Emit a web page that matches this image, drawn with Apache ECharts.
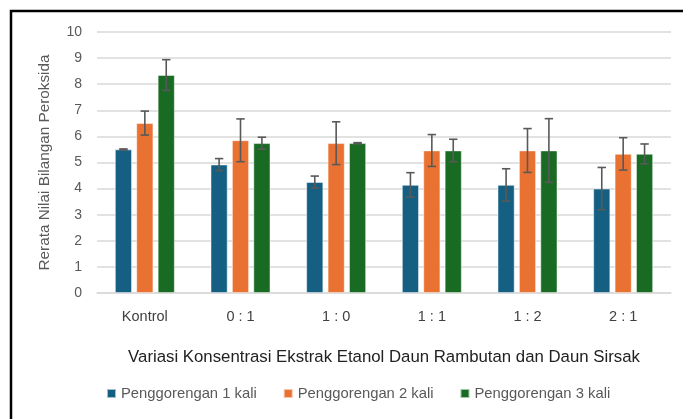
<!DOCTYPE html>
<html><head><meta charset="utf-8">
<script src="https://cdn.jsdelivr.net/npm/echarts@6/dist/echarts.min.js"></script>
<style>html,body{margin:0;padding:0;background:#fff}#c{width:683px;height:419px}</style>
</head><body><div id="c"></div>
<script>
const categories = ['Kontrol', '0 : 1', '1 : 0', '1 : 1', '1 : 2', '2 : 1'];
const seriesNames = ['Penggorengan 1 kali', 'Penggorengan 2 kali', 'Penggorengan 3 kali'];
const values1 = [5.50, 4.92, 4.25, 4.14, 4.14, 4.00];
const values2 = [6.51, 5.85, 5.74, 5.46, 5.46, 5.33];
const values3 = [8.35, 5.74, 5.74, 5.46, 5.46, 5.33];
const err1 = [0.02, 0.23, 0.23, 0.47, 0.62, 0.81];
const err2 = [0.46, 0.82, 0.82, 0.61, 0.84, 0.62];
const err3 = [0.59, 0.23, 0.02, 0.43, 1.22, 0.38];
const yTicks = [0, 1, 2, 3, 4, 5, 6, 7, 8, 9, 10];
const colors = ['#156082', '#E97132', '#196B24'];

const values = [values1, values2, values3];
const errs = [err1, err2, err3];
const barW = 17, gapPx = 4.4;

const chart = echarts.init(document.getElementById('c'));
const series = [];
values.forEach((v, s) => {
  series.push({
    name: seriesNames[s], type: 'bar', data: v, barWidth: barW, barGap: (gapPx / barW * 100) + '%',
    itemStyle: { color: colors[s], borderColor: 'rgba(255,255,255,0.6)', borderWidth: 0.8 }
  });
});
values.forEach((v, s) => {
  series.push({
    type: 'custom', name: seriesNames[s] + ' err', z: 10,
    data: v.map((val, i) => [i, val - errs[s][i], val + errs[s][i]]),
    renderItem: function (params, api) {
      const off = (s - 1) * (barW + gapPx);
      const lo = api.coord([api.value(0), api.value(1)]);
      const hi = api.coord([api.value(0), api.value(2)]);
      const x = lo[0] + off, cw = 4.2;
      const st = { stroke: '#595959', lineWidth: 1.6 };
      return { type: 'group', children: [
        { type: 'line', shape: { x1: x, y1: lo[1], x2: x, y2: hi[1] }, style: st },
        { type: 'line', shape: { x1: x - cw, y1: lo[1], x2: x + cw, y2: lo[1] }, style: st },
        { type: 'line', shape: { x1: x - cw, y1: hi[1], x2: x + cw, y2: hi[1] }, style: st }
      ]};
    },
    encode: { x: 0, y: [1, 2] }, silent: true
  });
});

chart.setOption({
  animation: false,
  color: colors,
  grid: { left: 97, right: 12, top: 32, bottom: 126 },
  graphic: [{ type: 'rect', shape: { x: 11, y: 11, width: 700, height: 440 }, style: { fill: 'none', stroke: '#000', lineWidth: 2.5 }, silent: true }],
  xAxis: {
    type: 'category', data: categories,
    name: 'Variasi Konsentrasi Ekstrak Etanol Daun Rambutan dan Daun Sirsak',
    nameLocation: 'middle', nameGap: 56,
    nameTextStyle: { fontFamily: 'Liberation Sans', fontSize: 16.8, color: '#222' },
    axisLine: { lineStyle: { color: '#d9d9d9', width: 1.5 } },
    axisTick: { show: false },
    axisLabel: { color: '#404040', fontFamily: 'Liberation Sans', fontSize: 14.5, margin: 16 }
  },
  yAxis: {
    type: 'value', min: 0, max: 10, interval: 1,
    name: 'Rerata Nilai Bilangan Peroksida', nameLocation: 'middle', nameGap: 45,
    nameTextStyle: { fontFamily: 'Liberation Sans', fontSize: 15.3, color: '#595959' },
    axisLabel: { color: '#595959', fontFamily: 'Liberation Sans', fontSize: 14, margin: 15,
      formatter: v => yTicks.includes(v) ? String(v) : '' },
    splitLine: { lineStyle: { color: '#d9d9d9', width: 1.5 } }
  },
  legend: {
    data: seriesNames, left: 101, top: 381, itemWidth: 9, itemHeight: 9, itemGap: 26,
    icon: 'rect',
    textStyle: { color: '#595959', fontFamily: 'Liberation Sans', fontSize: 14.8 }
  },
  series: series
});
</script></body></html>
